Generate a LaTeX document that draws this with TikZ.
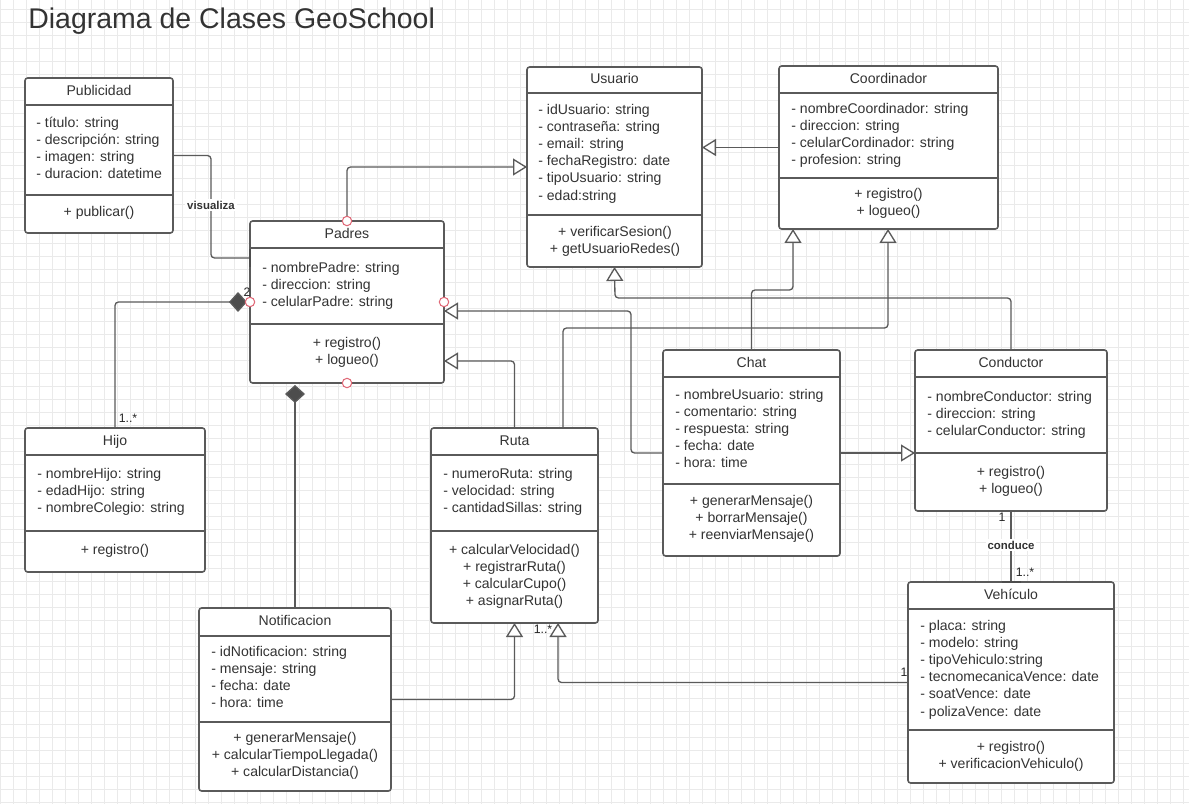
\documentclass[tikz,border=0pt]{standalone}
\usepackage{fontspec}
\setmainfont{Liberation Sans}
\usetikzlibrary{arrows.meta}

\definecolor{linegray}{HTML}{5A5A5A}
\definecolor{textgray}{HTML}{333333}
\definecolor{gridgray}{HTML}{EAEAEA}
\definecolor{portred}{HTML}{E06877}
\definecolor{diamondgray}{HTML}{4D4D4D}

\tikzset{
	classbox/.style={draw=linegray, fill=white, line width=0.9pt, rounded corners=1.5pt, inner sep=0pt, outer sep=0pt},
	classline/.style={draw=linegray, line width=0.9pt},
	classtitle/.style={text=textgray, font=\fontsize{8}{9.6}\selectfont, inner sep=0pt, text height=6pt, text depth=1.5pt},
	membertext/.style={text=textgray, font=\fontsize{8}{9.6}\selectfont, inner sep=0pt},
	conn/.style={draw=linegray, line width=0.75pt, rounded corners=2pt},
	gen/.style={conn, -{Triangle[length=0.28cm, width=0.34cm, fill=white]}},
	comp/.style={conn, -{Diamond[length=0.36cm, width=0.4cm, fill=diamondgray]}},
	port/.style={draw=portred, fill=white, line width=0.6pt},
	portbar/.style={draw=diamondgray, line width=1.7pt},
	assoclabel/.style={text=textgray, font=\fontsize{6.5}{7.5}\selectfont\bfseries, fill=white, inner sep=1pt},
	multlabel/.style={text=black!85, font=\fontsize{7}{8}\selectfont, inner sep=0pt},
	gridline/.style={draw=gridgray, line width=0.35pt}
}

% box: name, left, top, right, bottom, first line, second line, title
\newcommand{\umlclass}[8]{%
	\node[classbox, minimum width={(#4-#2)*0.02cm}, minimum height={(#5-#3)*0.02cm}] (#1) at ({(#2+#4)/2},{(#3+#5)/2}) {};
	\draw[classline] (#2,#6) -- (#4,#6) (#2,#7) -- (#4,#7);
	\node[classtitle] (#1-title) at ({(#2+#4)/2},{(#3+#6)/2}) {#8};
}
% attributes: name, x, first y, list
\newcommand{\umlattrs}[4]{%
	\foreach \mbr [count=\i] in {#4}
		\node[membertext, anchor=base west] (#1-a\i) at (#2,{#3+4.5+(\i-1)*17.1}) {\mbr};
}
% methods: name, centre x, first y, list
\newcommand{\umlmethods}[4]{%
	\foreach \mbr [count=\i] in {#4}
		\node[membertext, anchor=base] (#1-m\i) at (#2,{#3+4.5+(\i-1)*17.1}) {\mbr};
}

\begin{document}
\begin{tikzpicture}[x=0.02cm, y=-0.02cm]
			%%%%% START %%%%%
			
			\fill[white] (0,0) rectangle (1189,804);
			\useasboundingbox (0,0) rectangle (1189,804);
			\foreach \gx in {0,13,...,1189} \draw[gridline] (\gx,0) -- (\gx,804);
			\foreach \gy in {9,22,...,804} \draw[gridline] (0,\gy) -- (1189,\gy);
			
			\node[anchor=base west, text=textgray, font=\fontsize{16.2}{19}\selectfont, inner sep=0pt] (title) at (28,28.3) {Diagrama de Clases GeoSchool};
			
			%%%%% CLASSES %%%%%
			
			\umlclass{publicidad}{25}{78}{173}{233}{105}{195}{Publicidad}
			\umlattrs{publicidad}{36}{123}{- título: string, - descripción: string, - imagen: string, - duracion: datetime}
			\umlmethods{publicidad}{99}{212}{+ publicar()}
			
			\umlclass{padres}{250}{221}{444}{383}{248}{324}{Padres}
			\umlattrs{padres}{262}{268}{- nombrePadre: string, - direccion: string, - celularPadre: string}
			\umlmethods{padres}{347}{343}{+ registro(), + logueo()}
			
			\umlclass{usuario}{527}{67}{702}{267}{93}{215}{Usuario}
			\umlattrs{usuario}{538}{110}{- idUsuario: string, - contraseña: string, - email: string, - fechaRegistro: date, - tipoUsuario: string, - edad:string}
			\umlmethods{usuario}{615}{232}{+ verificarSesion(), + getUsuarioRedes()}
			
			\umlclass{coordinador}{779}{66}{998}{229}{93}{178}{Coordinador}
			\umlattrs{coordinador}{791}{109}{- nombreCoordinador: string, - direccion: string, - celularCordinador: string, - profesion: string}
			\umlmethods{coordinador}{888.5}{194}{+ registro(), + logueo()}
			
			\umlclass{hijo}{25}{428}{205}{572}{455}{531}{Hijo}
			\umlattrs{hijo}{37}{474}{- nombreHijo: string, - edadHijo: string, - nombreColegio: string}
			\umlmethods{hijo}{115}{550}{+ registro()}
			
			\umlclass{ruta}{431}{428}{598}{623}{455}{531}{Ruta}
			\umlattrs{ruta}{443}{474}{- numeroRuta: string, - velocidad: string, - cantidadSillas: string}
			\umlmethods{ruta}{514.5}{550}{+ calcularVelocidad(), + registrarRuta(), + calcularCupo(), + asignarRuta()}
			
			\umlclass{chat}{663}{350}{840}{556}{377}{484}{Chat}
			\umlattrs{chat}{675}{395}{- nombreUsuario: string, - comentario: string, - respuesta: string, - fecha: date, - hora: time}
			\umlmethods{chat}{751.5}{501}{+ generarMensaje(), + borrarMensaje(), + reenviarMensaje()}
			
			\umlclass{conductor}{915}{350}{1107}{511}{377}{453}{Conductor}
			\umlattrs{conductor}{927}{397}{- nombreConductor: string, - direccion: string, - celularConductor: string}
			\umlmethods{conductor}{1011}{472}{+ registro(), + logueo()}
			
			\umlclass{vehiculo}{908}{582}{1114}{783}{609}{730}{Vehículo}
			\umlattrs{vehiculo}{920}{626}{- placa: string, - modelo: string, - tipoVehiculo:string, - tecnomecanicaVence: date, - soatVence: date, - polizaVence: date}
			\umlmethods{vehiculo}{1011}{747}{+ registro(), + verificacionVehiculo()}
			
			\umlclass{notificacion}{199}{608}{391}{791}{636}{722}{Notificacion}
			\umlattrs{notificacion}{211}{652}{- idNotificacion: string, - mensaje: string, - fecha: date, - hora: time}
			\umlmethods{notificacion}{295}{738}{+ generarMensaje(), + calcularTiempoLlegada(), + calcularDistancia()}
			
			%%%%% RELATIONS %%%%%
			
			\draw[conn] (publicidad.east) -| (211,258) -- (padres.west |- 211,258);
			\draw[portbar] (padres.west |- 0,249) -- (padres.west |- 0,267);
			\node[assoclabel] (visualiza) at (211,205) {visualiza};
			
			\draw[gen] (padres.north) |- (usuario.west);
			\draw[gen] (coordinador.west) -- (usuario.east |- coordinador.west);
			\draw[gen] (conductor.north) |- (615,298) -- (usuario.south);
			
			\draw[comp, shorten >=0.06cm] (hijo.north) |- (padres.west);
			\draw[comp, shorten >=0.04cm] (notificacion.north) -- (padres.south -| notificacion.north);
			
			\draw[gen] (ruta.north) |- (padres.east |- 0,361);
			\draw[gen] (chat.west) -| (631,311) -- (padres.east |- 0,311);
			
			\draw[gen] (chat.north) |- (793,290) -- (coordinador.south -| 793,0);
			\draw[gen] (ruta.north -| 563,0) |- (888,328) -- (coordinador.south -| 888,0);
			
			\draw[gen] (chat.east) -- (conductor.west |- chat.east);
			
			\draw[conn] (conductor.south) -- (vehiculo.north);
			\draw[portbar] ([xshift=-0.19cm]vehiculo.north) -- ([xshift=0.19cm]vehiculo.north);
			\node[assoclabel] (conduce) at (1011,545) {conduce};
			
			\draw[gen] (vehiculo.west) -| (ruta.south -| 558,0);
			\draw[gen] (notificacion.east) -| (ruta.south);
			
			% ports on Padres
			\foreach \side in {north,west,east,south}
				\draw[port] (padres.\side) circle[radius=4.7];
			
			% multiplicities
			\node[multlabel] (m-padres) at (247,292) {2};
			\node[multlabel] (m-hijo) at (128,418) {1..*};
			\node[multlabel] (m-conductor) at (1002,517) {1};
			\node[multlabel] (m-vehiculo) at (1025,572) {1..*};
			\node[multlabel] (m-ruta) at (543,629) {1..*};
			\node[multlabel] (m-vehiculo2) at (904,672) {1};
			
			%%%%% END %%%%%
\end{tikzpicture}
\end{document}
